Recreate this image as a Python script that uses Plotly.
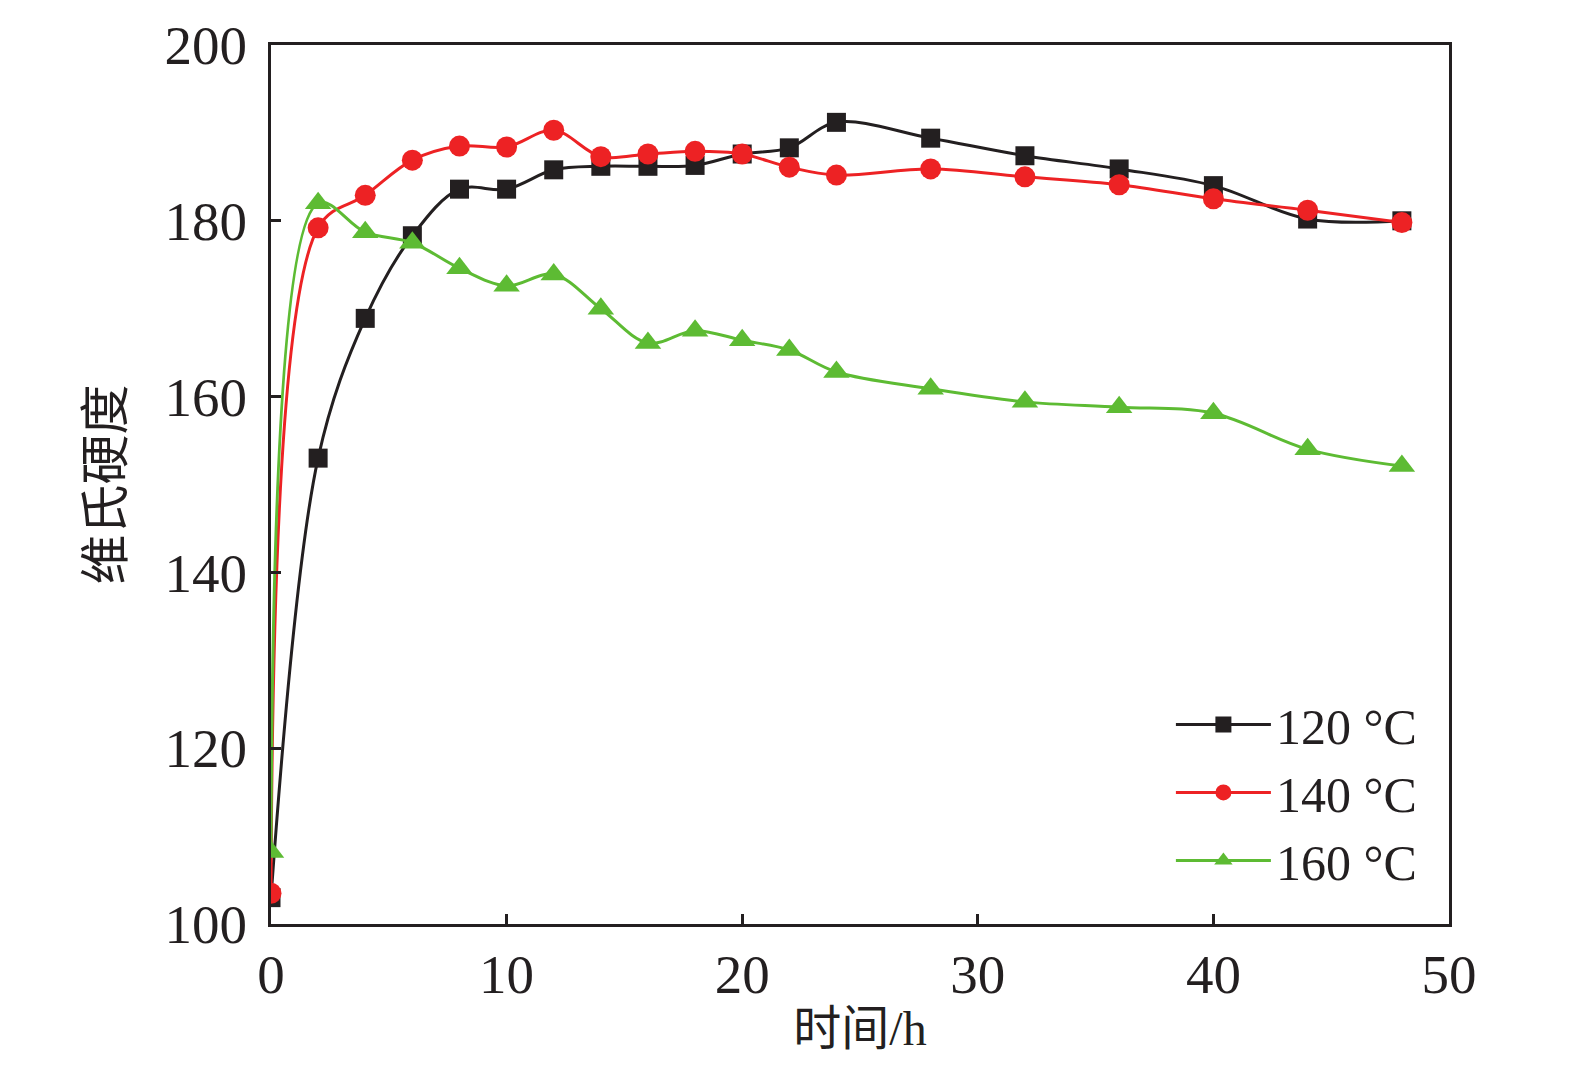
import plotly.graph_objects as go

time_h = [0, 2, 4, 6, 8, 10, 12, 14, 16, 18, 20, 22, 24, 28, 32, 36, 40, 44, 48]
hv_120 = [103.0, 153.0, 168.9, 178.3, 183.6, 183.6, 185.8, 186.2, 186.2, 186.3, 187.6, 188.3, 191.2, 189.4, 187.4, 185.9, 184.0, 180.2, 180.0]
hv_140 = [103.5, 179.2, 182.9, 186.9, 188.5, 188.4, 190.3, 187.3, 187.6, 187.9, 187.6, 186.1, 185.2, 185.9, 185.0, 184.1, 182.5, 181.2, 179.8]
hv_160 = [108.2, 182.0, 178.7, 177.5, 174.6, 172.6, 173.9, 170.0, 166.1, 167.5, 166.4, 165.3, 162.8, 160.9, 159.4, 158.8, 158.1, 154.0, 152.1]

series = [
    ("120 °C", hv_120, "#231f20", "square", 19),
    ("140 °C", hv_140, "#ed2224", "circle", 21),
    ("160 °C", hv_160, "#5dbb33", "triangle-up", 23),
]

serif = "Liberation Serif, Times New Roman, Noto Sans CJK SC, serif"

fig = go.Figure()
for name, vals, color, symbol, size in series:
    fig.add_trace(go.Scatter(
        x=time_h, y=vals, name=name, mode="lines+markers",
        line=dict(color=color, width=3, shape="spline", smoothing=1.0),
        marker=dict(color=color, symbol=symbol, size=size, line=dict(width=0)),
    ))

fig.update_layout(
    width=1575, height=1066,
    paper_bgcolor="white", plot_bgcolor="white",
    margin=dict(l=263, r=134, t=37, b=150),
    font=dict(family=serif, size=54, color="#231f20"),
    showlegend=True,
    legend=dict(
        x=0.977, y=0.028, xanchor="right", yanchor="bottom",
        bgcolor="rgba(0,0,0,0)", borderwidth=0,
        font=dict(family=serif, size=50, color="#231f20"),
        itemwidth=95, tracegroupgap=0,
    ),
)

fig.update_xaxes(
    range=[0, 50], tickvals=[0, 10, 20, 30, 40, 50],
    ticks="inside", ticklen=10, tickwidth=3, tickcolor="#231f20",
    showline=True, linewidth=3, linecolor="#231f20", mirror=True,
    showgrid=False, zeroline=False, automargin=False,
    tickfont=dict(family=serif, size=55, color="#231f20"),
    title=dict(text="时间/h", font=dict(family=serif, size=48, color="#231f20"), standoff=8),
)
fig.update_yaxes(
    range=[100, 200], tickvals=[100, 120, 140, 160, 180, 200],
    ticks="inside", ticklen=10, tickwidth=3, tickcolor="#231f20",
    showline=True, linewidth=3, linecolor="#231f20", mirror=True,
    showgrid=False, zeroline=False, automargin=False,
    ticklabelstandoff=10,
    tickfont=dict(family=serif, size=55, color="#231f20"),
    title=dict(text="维氏硬度", font=dict(family=serif, size=50, color="#231f20"), standoff=26),
)

fig.write_html("out.html")
